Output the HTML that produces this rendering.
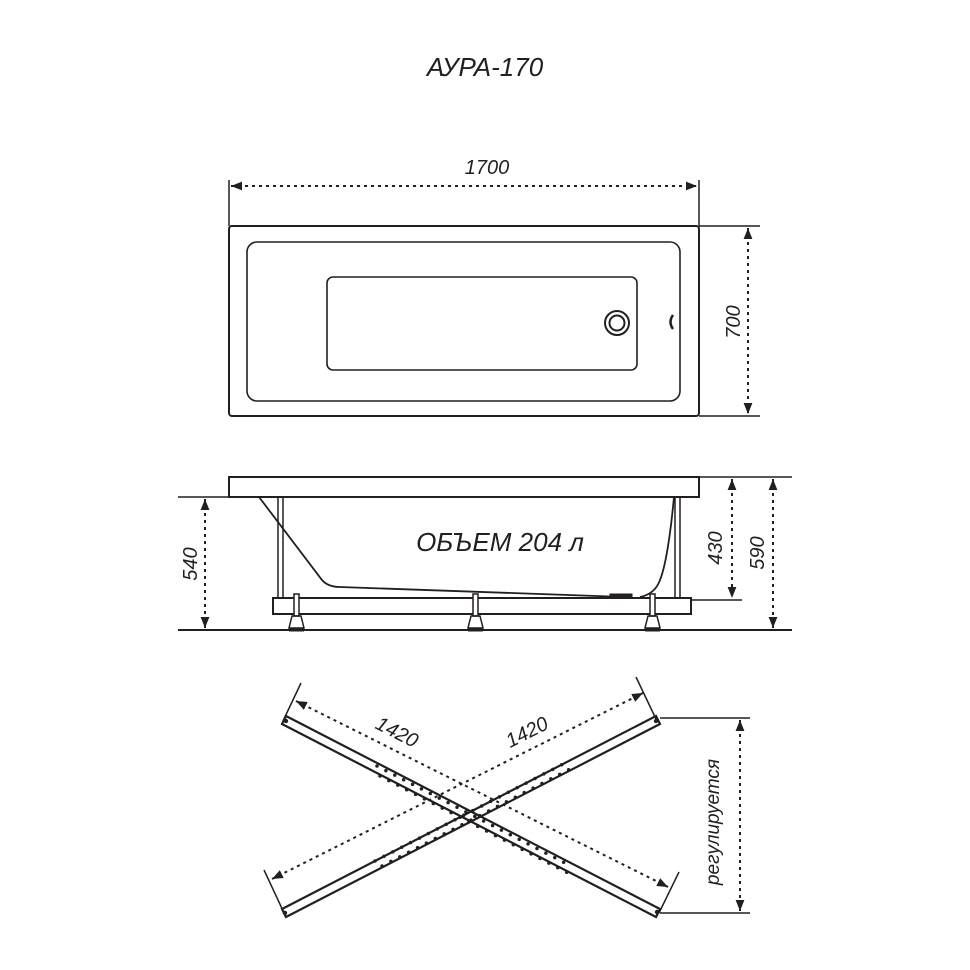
<!DOCTYPE html>
<html><head><meta charset="utf-8"><style>html,body{margin:0;padding:0;background:#fff}svg{display:block}</style></head>
<body>
<svg width="970" height="970" viewBox="0 0 970 970" xmlns="http://www.w3.org/2000/svg" font-family="Liberation Sans, sans-serif" font-style="italic" fill="none" stroke="#231f20">
<defs>
<marker id="a" viewBox="0 0 10 10" refX="10" refY="5" markerWidth="5.5" markerHeight="5.5" orient="auto-start-reverse"><path d="M0,1 L10,5 L0,9 Z" fill="#231f20" stroke="none"/></marker>
</defs>
<text x="485" y="76" font-size="26" fill="#231f20" stroke="none" text-anchor="middle">АУРА-170</text>

<!-- top view -->
<rect x="229" y="226" width="470" height="190" rx="3" stroke-width="2"/>
<rect x="247" y="242" width="433" height="159" rx="10" stroke-width="1.6"/>
<rect x="327" y="277" width="310" height="93" rx="6" stroke-width="1.6"/>
<circle cx="617" cy="323" r="12" stroke-width="2"/>
<circle cx="617" cy="323" r="7.5" stroke-width="2"/>
<path d="M673,315 q-5,7 0,14" stroke-width="2.5"/>
<line x1="229" y1="180" x2="229" y2="226" stroke-width="1.5"/>
<line x1="699" y1="180" x2="699" y2="226" stroke-width="1.5"/>
<line x1="231" y1="186" x2="697" y2="186" stroke-width="2" stroke-dasharray="3,4" marker-start="url(#a)" marker-end="url(#a)"/>
<text x="487" y="174" font-size="20" fill="#231f20" stroke="none" text-anchor="middle">1700</text>
<line x1="699" y1="226" x2="760" y2="226" stroke-width="1.5"/>
<line x1="699" y1="416" x2="760" y2="416" stroke-width="1.5"/>
<line x1="748" y1="228" x2="748" y2="414" stroke-width="2" stroke-dasharray="3,4" marker-start="url(#a)" marker-end="url(#a)"/>
<text transform="translate(740,322) rotate(-90)" font-size="20" fill="#231f20" stroke="none" text-anchor="middle">700</text>

<!-- side view -->
<line x1="178" y1="630" x2="792" y2="630" stroke-width="2"/>
<rect x="229" y="477" width="470" height="20" stroke-width="2"/>
<path d="M259,497 L322,580 Q328,587 340,587 L625,597 M674,497 Q668,560 660,580 Q655,594 640,597" stroke-width="1.8"/>
<rect x="610" y="594" width="22" height="4" fill="#231f20"/>
<rect x="278" y="497" width="5" height="101" stroke-width="1.5"/>
<rect x="675" y="497" width="5" height="101" stroke-width="1.5"/>
<rect x="273" y="598" width="418" height="16" stroke-width="2"/>
<g stroke-width="1.5">
<rect x="294" y="594" width="5" height="22" fill="#fff"/><path d="M292,616 h9 l3,12 h-15 z"/><line x1="289" y1="630" x2="304" y2="630" stroke-width="3"/>
<rect x="473" y="594" width="5" height="22" fill="#fff"/><path d="M471,616 h9 l3,12 h-15 z"/><line x1="468" y1="630" x2="483" y2="630" stroke-width="3"/>
<rect x="650" y="594" width="5" height="22" fill="#fff"/><path d="M648,616 h9 l3,12 h-15 z"/><line x1="645" y1="630" x2="660" y2="630" stroke-width="3"/>
</g>
<text x="500" y="551" font-size="26" fill="#231f20" stroke="none" text-anchor="middle">ОБЪЕМ 204 л</text>
<line x1="178" y1="497" x2="229" y2="497" stroke-width="1.5"/>
<line x1="205" y1="499" x2="205" y2="628" stroke-width="2" stroke-dasharray="3,4" marker-start="url(#a)" marker-end="url(#a)"/>
<text transform="translate(197,564) rotate(-90)" font-size="20" fill="#231f20" stroke="none" text-anchor="middle">540</text>
<line x1="699" y1="477" x2="792" y2="477" stroke-width="1.5"/>
<line x1="691" y1="600" x2="742" y2="600" stroke-width="1.5"/>
<line x1="732" y1="479" x2="732" y2="598" stroke-width="2" stroke-dasharray="3,4" marker-start="url(#a)" marker-end="url(#a)"/>
<text transform="translate(722,548) rotate(-90)" font-size="20" fill="#231f20" stroke="none" text-anchor="middle">430</text>
<line x1="773" y1="479" x2="773" y2="628" stroke-width="2" stroke-dasharray="3,4" marker-start="url(#a)" marker-end="url(#a)"/>
<text transform="translate(764,553) rotate(-90)" font-size="20" fill="#231f20" stroke="none" text-anchor="middle">590</text>

<!-- X view -->
<g stroke-width="2.2">
<polygon points="286,716 660,909 656,917 282,724" fill="none"/>
<polygon points="282,909 656,716 660,724 286,917" fill="none"/>
</g>
<g fill="#231f20" stroke="none">
<circle cx="286" cy="721" r="2.2"/><circle cx="657" cy="912" r="2.2"/><circle cx="285" cy="913" r="2.2"/><circle cx="656" cy="721" r="2.2"/>
</g>
<g stroke-width="3.5" stroke-linecap="round" stroke-dasharray="0,10">
<line x1="376" y1="770" x2="566" y2="868" transform="translate(1,-4)"/>
<line x1="381" y1="772" x2="571" y2="870" transform="translate(-1,4)"/>
<line x1="376" y1="865" x2="566" y2="767" transform="translate(-1,-4)"/>
<line x1="381" y1="862" x2="571" y2="764" transform="translate(1,4)"/>
</g>
<g stroke-width="1.5">
<line x1="283" y1="721" x2="301" y2="683"/>
<line x1="659" y1="913" x2="679" y2="872"/>
<line x1="285" y1="915" x2="264" y2="870"/>
<line x1="656" y1="719" x2="636" y2="677"/>
</g>
<line x1="296" y1="701" x2="668" y2="887" stroke-width="2" stroke-dasharray="3,4" marker-start="url(#a)" marker-end="url(#a)"/>
<line x1="272" y1="879" x2="643" y2="693" stroke-width="2" stroke-dasharray="3,4" marker-start="url(#a)" marker-end="url(#a)"/>
<text transform="translate(394,738) rotate(27)" font-size="20" fill="#231f20" stroke="none" text-anchor="middle">1420</text>
<text transform="translate(530,738) rotate(-27)" font-size="20" fill="#231f20" stroke="none" text-anchor="middle">1420</text>
<line x1="660" y1="718" x2="750" y2="718" stroke-width="1.5"/>
<line x1="660" y1="913" x2="750" y2="913" stroke-width="1.5"/>
<line x1="740" y1="720" x2="740" y2="911" stroke-width="2" stroke-dasharray="3,4" marker-start="url(#a)" marker-end="url(#a)"/>
<text transform="translate(719,822) rotate(-90)" font-size="19" fill="#231f20" stroke="none" text-anchor="middle">регулируется</text>
</svg>
</body></html>
